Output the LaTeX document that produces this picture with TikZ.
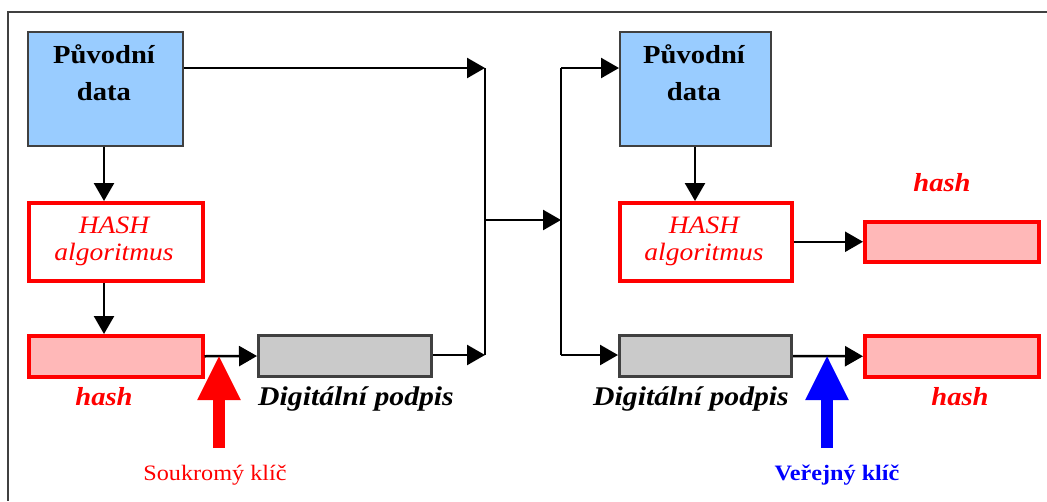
\documentclass[tikz,border=0pt]{standalone}
\usepackage{fontspec}
\setmainfont{Liberation Serif}[FakeStretch=1.1]
\usetikzlibrary{arrows.meta}
\definecolor{boxblue}{HTML}{99CCFF}
\definecolor{boxedge}{HTML}{404040}
\definecolor{hashfill}{HTML}{FFB8B8}
\definecolor{sigfill}{HTML}{CACACA}
\definecolor{keyblue}{HTML}{0000FF}
\tikzset{
  databox/.style={draw=boxedge, line width=1.5pt, fill=boxblue, anchor=north west, inner sep=0pt},
  algbox/.style={draw=red, line width=3.5pt, fill=white, anchor=north west, inner sep=0pt},
  hashbox/.style={draw=red, line width=3.5pt, fill=hashfill, anchor=north west, inner sep=0pt},
  sigbox/.style={draw=boxedge, line width=3pt, fill=sigfill, anchor=north west, inner sep=0pt},
  arr/.style={line width=2.5pt, -{Triangle[length=18pt,width=20pt]}},
  wire/.style={line width=2.5pt},
  bigarr/.style={line width=12pt, -{Triangle[length=45pt,width=40pt]}},
  lbl/.style={anchor=base, inner sep=0pt},
  datatxt/.style={lbl, font=\fontsize{26}{30}\selectfont\bfseries},
  algtxt/.style={lbl, text=red, font=\fontsize{25}{30}\selectfont\itshape},
  hashtxt/.style={lbl, text=red, font=\fontsize{26}{30}\selectfont\bfseries\itshape},
  sigtxt/.style={lbl, font=\fontsize{27}{30}\selectfont\bfseries\itshape},
}
\begin{document}
\begin{tikzpicture}[x=1pt,y=-1pt]
\useasboundingbox (0,0) rectangle (1047,501);
% frame (top and left edges)
\draw[line width=2pt, boxedge] (1047,12) -- (8,12) -- (8,501);

% ---------- left side ----------
\node[databox, minimum width=155pt, minimum height=114pt] (src1) at (27,31) {};
\node[datatxt] (src1a) at (104,63) {Původní};
\node[datatxt] (src1b) at (104,100) {data};

\node[algbox, minimum width=174pt, minimum height=78pt] (alg1) at (27,201) {};
\node[algtxt] (alg1a) at (114,233) {HASH};
\node[algtxt] (alg1b) at (114,260) {algoritmus};

\node[hashbox, minimum width=174pt, minimum height=41pt] (hash1) at (27,334) {};
\node[hashtxt] (hash1l) at (104,405) {hash};

\node[sigbox, minimum width=173pt, minimum height=41pt] (sig1) at (257,334) {};
\node[sigtxt] (sig1l) at (356,405) {Digitální podpis};

\draw[arr] (src1.south -| 104,0) -- (alg1.north -| 104,0);
\draw[arr] (alg1.south -| 104,0) -- (hash1.north -| 104,0);
\draw[arr] (hash1.east) -- (sig1.west);

% private key arrow
\node[lbl, text=red, font=\fontsize{22}{26}\selectfont] (priv) at (215,480) {Soukromý klíč};
\coordinate (privtip) at (219,355);
\draw[bigarr, red] (219,448) -- (privtip);

% ---------- transfer ----------
\coordinate (j1t) at (485,68);
\coordinate (j1m) at (485,220);
\coordinate (j1b) at (485,355);
\coordinate (j2t) at (561,68);
\coordinate (j2m) at (561,220);
\coordinate (j2b) at (561,355);
\draw[arr] (src1.east |- j1t) -- (j1t);
\draw[arr] (sig1.east |- j1b) -- (j1b);
\draw[wire] (j1t) -- (j1b);
\draw[arr] (j1m) -- (j2m);
\draw[wire] (j2t) -- (j2b);

% ---------- right side ----------
\node[databox, minimum width=151pt, minimum height=114pt] (src2) at (619,31) {};
\node[datatxt] (src2a) at (694,63) {Původní};
\node[datatxt] (src2b) at (694,100) {data};

\node[algbox, minimum width=172pt, minimum height=78pt] (alg2) at (618,201) {};
\node[algtxt] (alg2a) at (704,233) {HASH};
\node[algtxt] (alg2b) at (704,260) {algoritmus};

\node[hashbox, minimum width=174pt, minimum height=40pt] (hash2) at (863,220) {};
\node[hashtxt] (hash2l) at (942,191) {hash};

\node[sigbox, minimum width=172pt, minimum height=41pt] (sig2) at (618,334) {};
\node[sigtxt] (sig2l) at (691,405) {Digitální podpis};

\node[hashbox, minimum width=174pt, minimum height=41pt] (hash3) at (863,334) {};
\node[hashtxt] (hash3l) at (960,405) {hash};

\draw[arr] (j2t) -- (src2.west |- j2t);
\draw[arr] (j2b) -- (sig2.west |- j2b);
\draw[arr] (src2.south -| 695,0) -- (alg2.north -| 695,0);
\draw[arr] (alg2.east |- hash2.west) -- (hash2.west);
\draw[arr] (sig2.east) -- (hash3.west);

% public key arrow
\node[lbl, text=keyblue, font=\fontsize{22}{26}\selectfont\bfseries] (pub) at (837,480) {Veřejný klíč};
\coordinate (pubtip) at (827,355);
\draw[bigarr, keyblue] (827,448) -- (pubtip);
\end{tikzpicture}
\end{document}
